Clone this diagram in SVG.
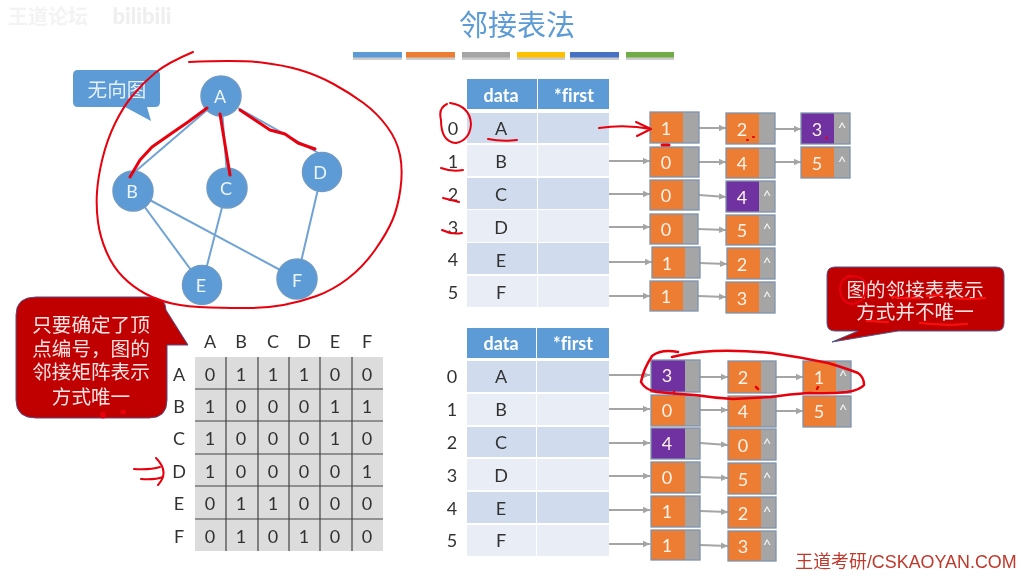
<svg xmlns="http://www.w3.org/2000/svg" width="1021" height="577" viewBox="0 0 1021 577">
<defs>
<marker id="ah" markerUnits="userSpaceOnUse" markerWidth="8" markerHeight="8" refX="7" refY="4" orient="auto"><path d="M0 0.8L7 4L0 7.2Z" fill="#a5a5a5"/></marker>
<filter id="soft" x="0" y="0" width="100%" height="100%"><feGaussianBlur stdDeviation="0.45"/></filter>
</defs>
<style>
text{font-family:"Lato","Noto Sans CJK SC",sans-serif;text-anchor:middle;dominant-baseline:central;font-variant-ligatures:none}
.cjk{font-family:"Noto Sans CJK SC",sans-serif}
.gn{fill:#5b9bd5;stroke:#6d9ac6;stroke-width:1.5}
.gt{fill:#eef4fb;font-size:18px}
.edge{stroke:#6fa3d4;stroke-width:2;fill:none}
.hd{fill:#5b9bd5}.odd{fill:#d0dcee}.even{fill:#e9edf6}
.ht{fill:#fff;font-size:18px;font-weight:bold}
.tt{fill:#333;font-size:18px}
.o{fill:#ed7d31}.p{fill:#7030a0}.g{fill:#a5a5a5}
.box{fill:none;stroke:#7f93ad;stroke-width:1.3}
.nt{fill:#fdf3ea;font-size:18px}
.ct{fill:#f4f4f4;font-size:15px}
.arr{stroke:#a5a5a5;stroke-width:2;fill:none;marker-end:url(#ah)}
.mx{fill:#333;font-size:18px}
.ln{stroke:#444;stroke-width:1.2}
.red{stroke:#e8000f;fill:none;stroke-linecap:round;stroke-linejoin:round;stroke-width:2}
.bt{fill:#fbe4e4;font-size:19.6px}
</style>
<rect width="1021" height="577" fill="#fff"/>
<g filter="url(#soft)">
<g id="watermarks">
<text x="48" y="15" class="cjk" font-size="20" font-weight="bold" fill="#f3f3f3">王道论坛</text>
<text x="142" y="15" font-size="22" font-weight="900" fill="#efefef">bilibili</text>
<text x="906" y="562" font-size="17.900" fill="#c0392b" style="font-family:'Liberation Sans','Noto Sans CJK SC',sans-serif">王道考研/CSKAOYAN.COM</text>
</g>
<g id="title">
<text x="517" y="23" class="cjk" font-size="29" fill="#5b9bd5">邻接表法</text>
<g id="bars">
<rect x="353" y="54" width="49" height="6" fill="#999" opacity=".5"/><rect x="353" y="52" width="49" height="5.500" fill="#5b9bd5"/>
<rect x="406" y="54" width="49" height="6" fill="#999" opacity=".5"/><rect x="406" y="52" width="49" height="5.500" fill="#ed7d31"/>
<rect x="462" y="54" width="48" height="6" fill="#999" opacity=".5"/><rect x="462" y="52" width="48" height="5.500" fill="#a5a5a5"/>
<rect x="517" y="54" width="48" height="6" fill="#999" opacity=".5"/><rect x="517" y="52" width="48" height="5.500" fill="#ffc000"/>
<rect x="570" y="54" width="49" height="6" fill="#999" opacity=".5"/><rect x="570" y="52" width="49" height="5.500" fill="#4472c4"/>
<rect x="626" y="54" width="48" height="6" fill="#999" opacity=".5"/><rect x="626" y="52" width="48" height="5.500" fill="#70ad47"/>
</g>
</g>
<g id="callout-undirected">
<path d="M78 70H155Q160 70 160 75V102Q160 107 155 107H147L151 121L125 107H78Q73 107 73 102V75Q73 70 78 70Z" fill="#5b9bd5"/>
<text x="117" y="88" class="cjk" font-size="19.600" fill="#e6f0fa">无向图</text>
</g>
<g id="connectors">
<g id="graph-edges">
<path class="edge" d="M207 110L130 176M221 96L228 188M238 108L322 155M133 191L202 285M133 191L297 279M227 188L202 285M322 172L297 279"/>
</g>
<g id="list-arrows-1">
<path class="arr" d="M599 161H650"/><path class="arr" d="M603 194H650"/><path class="arr" d="M602 227H650"/><path class="arr" d="M603 262H652"/><path class="arr" d="M602 296H650"/>
<path class="arr" d="M699 128H726"/><path class="arr" d="M775 129H801"/><path class="arr" d="M699 162H726"/><path class="arr" d="M775 162H801"/>
<path class="arr" d="M699 195L726 197"/><path class="arr" d="M698 229L726 230"/><path class="arr" d="M699 263L727 264"/><path class="arr" d="M698 296L726 297"/>
</g>
<g id="list-arrows-2">
<path class="arr" d="M600 375H650"/><path class="arr" d="M600 409H650"/><path class="arr" d="M603 443H650"/><path class="arr" d="M603 476H650"/><path class="arr" d="M603 510H650"/><path class="arr" d="M603 544H650"/>
<path class="arr" d="M700 377H728"/><path class="arr" d="M776 377H803"/><path class="arr" d="M700 410H728"/><path class="arr" d="M776 411H803"/>
<path class="arr" d="M700 443L728 445"/><path class="arr" d="M700 477L728 478"/><path class="arr" d="M700 511L728 512"/><path class="arr" d="M700 545L728 546"/>
</g>
</g>
<g id="node-A"><circle class="gn" cx="221" cy="96" r="20"/><text class="gt" x="220" y="96">A</text></g>
<g id="node-B"><circle class="gn" cx="133" cy="191" r="20"/><text class="gt" x="132" y="191">B</text></g>
<g id="node-C"><circle class="gn" cx="227" cy="188" r="20"/><text class="gt" x="226" y="188">C</text></g>
<g id="node-D"><circle class="gn" cx="322" cy="172" r="19.500"/><text class="gt" x="320" y="172">D</text></g>
<g id="node-E"><circle class="gn" cx="202" cy="285" r="19.500"/><text class="gt" x="201" y="285">E</text></g>
<g id="node-F"><circle class="gn" cx="297" cy="279" r="20"/><text class="gt" x="297" y="280">F</text></g>
<g id="callout-left">
<path d="M36 297H148Q166 297 166 310L188 345L167 345V400Q167 418 149 418H36Q16 418 16 400V315Q16 297 36 297Z" fill="#c00000" stroke="#5a4a80" stroke-width="1"/>
<text class="cjk bt" x="91" y="323">只要确定了顶</text>
<text class="cjk bt" x="91" y="347">点编号，图的</text>
<text class="cjk bt" x="91" y="370">邻接矩阵表示</text>
<text class="cjk bt" x="91" y="395">方式唯一</text>
</g>
<g id="matrix">
<rect x="195" y="357" width="188" height="194" fill="#dcdcdc"/>
<path class="ln" d="M226 357V551M258 357V551M289 357V551M320 357V551M352 357V551M195 389H383M195 421H383M195 454H383M195 486H383M195 519H383"/>
<g class="mxh">
<text class="mx" x="210" y="341">A</text><text class="mx" x="241" y="341">B</text><text class="mx" x="273" y="341">C</text><text class="mx" x="304" y="341">D</text><text class="mx" x="335" y="341">E</text><text class="mx" x="367" y="341">F</text>
<text class="mx" x="179" y="374">A</text><text class="mx" x="179" y="406">B</text><text class="mx" x="179" y="438">C</text><text class="mx" x="179" y="471">D</text><text class="mx" x="179" y="503">E</text><text class="mx" x="179" y="536">F</text>
</g>
<g id="matrix-values">
<text class="mx" x="210" y="374">0</text><text class="mx" x="241" y="374">1</text><text class="mx" x="273" y="374">1</text><text class="mx" x="304" y="374">1</text><text class="mx" x="335" y="374">0</text><text class="mx" x="367" y="374">0</text>
<text class="mx" x="210" y="406">1</text><text class="mx" x="241" y="406">0</text><text class="mx" x="273" y="406">0</text><text class="mx" x="304" y="406">0</text><text class="mx" x="335" y="406">1</text><text class="mx" x="367" y="406">1</text>
<text class="mx" x="210" y="438">1</text><text class="mx" x="241" y="438">0</text><text class="mx" x="273" y="438">0</text><text class="mx" x="304" y="438">0</text><text class="mx" x="335" y="438">1</text><text class="mx" x="367" y="438">0</text>
<text class="mx" x="210" y="471">1</text><text class="mx" x="241" y="471">0</text><text class="mx" x="273" y="471">0</text><text class="mx" x="304" y="471">0</text><text class="mx" x="335" y="471">0</text><text class="mx" x="367" y="471">1</text>
<text class="mx" x="210" y="503">0</text><text class="mx" x="241" y="503">1</text><text class="mx" x="273" y="503">1</text><text class="mx" x="304" y="503">0</text><text class="mx" x="335" y="503">0</text><text class="mx" x="367" y="503">0</text>
<text class="mx" x="210" y="536">0</text><text class="mx" x="241" y="536">1</text><text class="mx" x="273" y="536">0</text><text class="mx" x="304" y="536">1</text><text class="mx" x="335" y="536">0</text><text class="mx" x="367" y="536">0</text>
</g>
</g>
<g id="table-1">
<rect class="hd" x="467" y="79" width="70" height="30"/><rect class="hd" x="538" y="79" width="71" height="30"/>
<text class="ht" x="501" y="95">data</text><text class="ht" x="574" y="95">*first</text>
<rect class="odd" x="467" y="113" width="70" height="30"/><rect class="odd" x="538" y="113" width="71" height="30"/>
<rect class="even" x="467" y="145" width="70" height="31"/><rect class="even" x="538" y="145" width="71" height="31"/>
<rect class="odd" x="467" y="178" width="70" height="31"/><rect class="odd" x="538" y="178" width="71" height="31"/>
<rect class="even" x="467" y="210" width="70" height="32"/><rect class="even" x="538" y="210" width="71" height="32"/>
<rect class="odd" x="467" y="243" width="70" height="31"/><rect class="odd" x="538" y="243" width="71" height="31"/>
<rect class="even" x="467" y="276" width="70" height="31"/><rect class="even" x="538" y="276" width="71" height="31"/>
<text class="tt" x="501" y="128">A</text><text class="tt" x="501" y="161">B</text><text class="tt" x="501" y="194">C</text><text class="tt" x="501" y="227">D</text><text class="tt" x="501" y="260">E</text><text class="tt" x="501" y="292">F</text>
<text class="tt" x="453" y="128">0</text><text class="tt" x="453" y="161">1</text><text class="tt" x="453" y="194">2</text><text class="tt" x="453" y="227">3</text><text class="tt" x="453" y="259">4</text><text class="tt" x="453" y="292">5</text>
</g>
<g id="list-1">
<g><rect class="o" x="650" y="112" width="33" height="31"/><rect class="g" x="683" y="112" width="16" height="31"/><rect class="box" x="650" y="112" width="49" height="31"/><text class="nt" x="666" y="128">1</text></g>
<g><rect class="o" x="726" y="113" width="33" height="31"/><rect class="g" x="759" y="113" width="16" height="31"/><rect class="box" x="726" y="113" width="49" height="31"/><text class="nt" x="742" y="129">2</text></g>
<g><rect class="p" x="801" y="113" width="33" height="31"/><rect class="g" x="834" y="113" width="16" height="31"/><rect class="box" x="801" y="113" width="49" height="31"/><text class="nt" x="817" y="129">3</text><text class="ct" x="842" y="127">^</text></g>
<g><rect class="o" x="650" y="147" width="33" height="30"/><rect class="g" x="683" y="147" width="16" height="30"/><rect class="box" x="650" y="147" width="49" height="30"/><text class="nt" x="666" y="162">0</text></g>
<g><rect class="o" x="726" y="148" width="33" height="30"/><rect class="g" x="759" y="148" width="16" height="30"/><rect class="box" x="726" y="148" width="49" height="30"/><text class="nt" x="742" y="163">4</text></g>
<g><rect class="o" x="801" y="147" width="33" height="31"/><rect class="g" x="834" y="147" width="16" height="31"/><rect class="box" x="801" y="147" width="49" height="31"/><text class="nt" x="817" y="163">5</text><text class="ct" x="842" y="161">^</text></g>
<g><rect class="o" x="650" y="180" width="33" height="30"/><rect class="g" x="683" y="180" width="16" height="30"/><rect class="box" x="650" y="180" width="49" height="30"/><text class="nt" x="666" y="195">0</text></g>
<g><rect class="p" x="726" y="181" width="33" height="31"/><rect class="g" x="759" y="181" width="16" height="31"/><rect class="box" x="726" y="181" width="49" height="31"/><text class="nt" x="742" y="197">4</text><text class="ct" x="767" y="195">^</text></g>
<g><rect class="o" x="650" y="214" width="33" height="30"/><rect class="g" x="683" y="214" width="15" height="30"/><rect class="box" x="650" y="214" width="48" height="30"/><text class="nt" x="666" y="229">0</text></g>
<g><rect class="o" x="726" y="215" width="33" height="30"/><rect class="g" x="759" y="215" width="16" height="30"/><rect class="box" x="726" y="215" width="49" height="30"/><text class="nt" x="742" y="230">5</text><text class="ct" x="767" y="228">^</text></g>
<g><rect class="o" x="652" y="247" width="33" height="31"/><rect class="g" x="685" y="247" width="15" height="31"/><rect class="box" x="652" y="247" width="48" height="31"/><text class="nt" x="667" y="263">1</text></g>
<g><rect class="o" x="727" y="248" width="33" height="31"/><rect class="g" x="760" y="248" width="15" height="31"/><rect class="box" x="727" y="248" width="48" height="31"/><text class="nt" x="742" y="264">2</text><text class="ct" x="767" y="262">^</text></g>
<g><rect class="o" x="650" y="281" width="33" height="30"/><rect class="g" x="683" y="281" width="15" height="30"/><rect class="box" x="650" y="281" width="48" height="30"/><text class="nt" x="666" y="296">1</text></g>
<g><rect class="o" x="726" y="282" width="33" height="31"/><rect class="g" x="759" y="282" width="16" height="31"/><rect class="box" x="726" y="282" width="49" height="31"/><text class="nt" x="742" y="298">3</text><text class="ct" x="767" y="296">^</text></g>
</g>
<g id="table-2">
<rect class="hd" x="467" y="328" width="69" height="30"/><rect class="hd" x="537" y="328" width="72" height="30"/>
<text class="ht" x="501" y="343">data</text><text class="ht" x="573" y="343">*first</text>
<rect class="odd" x="467" y="361" width="69" height="31"/><rect class="odd" x="537" y="361" width="72" height="31"/>
<rect class="even" x="467" y="394" width="69" height="31"/><rect class="even" x="537" y="394" width="72" height="31"/>
<rect class="odd" x="467" y="427" width="69" height="30"/><rect class="odd" x="537" y="427" width="72" height="30"/>
<rect class="even" x="467" y="459" width="69" height="31"/><rect class="even" x="537" y="459" width="72" height="31"/>
<rect class="odd" x="467" y="492" width="69" height="31"/><rect class="odd" x="537" y="492" width="72" height="31"/>
<rect class="even" x="467" y="525" width="69" height="31"/><rect class="even" x="537" y="525" width="72" height="31"/>
<text class="tt" x="501" y="376">A</text><text class="tt" x="501" y="409">B</text><text class="tt" x="501" y="442">C</text><text class="tt" x="501" y="475">D</text><text class="tt" x="501" y="508">E</text><text class="tt" x="501" y="540">F</text>
<text class="tt" x="452" y="376">0</text><text class="tt" x="452" y="409">1</text><text class="tt" x="452" y="442">2</text><text class="tt" x="452" y="475">3</text><text class="tt" x="452" y="508">4</text><text class="tt" x="452" y="540">5</text>
</g>
<g id="list-2">
<g><rect class="p" x="651" y="360" width="34" height="32"/><rect class="g" x="685" y="360" width="15" height="32"/><rect class="box" x="651" y="360" width="49" height="32"/><text class="nt" x="667" y="375">3</text></g>
<g><rect class="o" x="728" y="361" width="33" height="32"/><rect class="g" x="761" y="361" width="15" height="32"/><rect class="box" x="728" y="361" width="48" height="32"/><text class="nt" x="743" y="377">2</text></g>
<g><rect class="o" x="803" y="361" width="33" height="32"/><rect class="g" x="836" y="361" width="15" height="32"/><rect class="box" x="803" y="361" width="48" height="32"/><text class="nt" x="819" y="377">1</text><text class="ct" x="843" y="375">^</text></g>
<g><rect class="o" x="651" y="395" width="34" height="31"/><rect class="g" x="685" y="395" width="15" height="31"/><rect class="box" x="651" y="395" width="49" height="31"/><text class="nt" x="667" y="410">0</text></g>
<g><rect class="o" x="728" y="396" width="33" height="31"/><rect class="g" x="761" y="396" width="15" height="31"/><rect class="box" x="728" y="396" width="48" height="31"/><text class="nt" x="743" y="411">4</text></g>
<g><rect class="o" x="803" y="396" width="33" height="31"/><rect class="g" x="836" y="396" width="15" height="31"/><rect class="box" x="803" y="396" width="48" height="31"/><text class="nt" x="819" y="411">5</text><text class="ct" x="843" y="409">^</text></g>
<g><rect class="p" x="651" y="428" width="34" height="31"/><rect class="g" x="685" y="428" width="15" height="31"/><rect class="box" x="651" y="428" width="49" height="31"/><text class="nt" x="667" y="443">4</text></g>
<g><rect class="o" x="728" y="429" width="33" height="31"/><rect class="g" x="761" y="429" width="15" height="31"/><rect class="box" x="728" y="429" width="48" height="31"/><text class="nt" x="743" y="445">0</text><text class="ct" x="767" y="443">^</text></g>
<g><rect class="o" x="651" y="462" width="34" height="31"/><rect class="g" x="685" y="462" width="15" height="31"/><rect class="box" x="651" y="462" width="49" height="31"/><text class="nt" x="667" y="477">0</text></g>
<g><rect class="o" x="728" y="463" width="33" height="31"/><rect class="g" x="761" y="463" width="15" height="31"/><rect class="box" x="728" y="463" width="48" height="31"/><text class="nt" x="743" y="479">5</text><text class="ct" x="767" y="477">^</text></g>
<g><rect class="o" x="651" y="496" width="34" height="31"/><rect class="g" x="685" y="496" width="15" height="31"/><rect class="box" x="651" y="496" width="49" height="31"/><text class="nt" x="667" y="511">1</text></g>
<g><rect class="o" x="728" y="497" width="33" height="31"/><rect class="g" x="761" y="497" width="15" height="31"/><rect class="box" x="728" y="497" width="48" height="31"/><text class="nt" x="743" y="513">2</text><text class="ct" x="767" y="511">^</text></g>
<g><rect class="o" x="651" y="530" width="34" height="30"/><rect class="g" x="685" y="530" width="15" height="30"/><rect class="box" x="651" y="530" width="49" height="30"/><text class="nt" x="667" y="545">1</text></g>
<g><rect class="o" x="728" y="531" width="33" height="30"/><rect class="g" x="761" y="531" width="15" height="30"/><rect class="box" x="728" y="531" width="48" height="30"/><text class="nt" x="743" y="546">3</text><text class="ct" x="767" y="544">^</text></g>
</g>
<g id="callout-right">
<path d="M835 267H996Q1004 267 1004 275V323Q1004 331 996 331H898L832 342L858 331H835Q827 331 827 323V275Q827 267 835 267Z" fill="#c00000" stroke="#4a5a90" stroke-width="1"/>
<text class="cjk bt" x="915" y="288">图的邻接表表示</text>
<text class="cjk bt" x="915" y="310">方式并不唯一</text>
</g>
<g id="annotations">
<path class="red" d="M193 52Q167 63 155 73Q143 83 133 95Q123 107 115 123.500Q107 140 102.500 158.500Q98 177 97 192Q96 207 98 222Q100 237 106.500 252Q113 267 123 277Q133 287 145 293.500Q157 300 172 303.500Q187 307 210 307.500Q233 308 250 308Q267 308 283.500 305Q300 302 316.500 296Q333 290 348 278.500Q363 267 375 250Q387 233 392.500 220Q398 207 400.500 188.500Q403 170 400 155Q397 140 387 126.500Q377 113 363.500 103Q350 93 333.500 84Q317 75 300 70Q283 65 261.500 62.500Q240 60 189 62"/>
<path class="red" style="stroke-width:3" d="M207 108L188 122L172 133L152 147L140 160L130 177M220 114L230 175M240 110L255 120L270 130L285 134L298 143L315 149"/>
<path class="red" d="M447 104Q438 108 441 120Q441 142 456 143Q470 140 471 124Q470 106 450 103M488 139Q502 142 517 140M441 168Q452 172 463 170M443 198L459 202M442 230Q452 235 462 233M599 128Q625 124 651 129M636 122L651 129L637 136"/>
<path class="red" style="stroke-width:3" d="M662 145H669"/>
<path class="red" d="M747 140h1M753 137h1M826 138h1M156 458Q170 472 158 485M134 469Q150 470 160 467M141 479Q155 480 163 477"/>
<path class="red" style="stroke-width:5" d="M103 414v2M123 412h.5"/>
<path class="red" style="stroke-width:2.500" d="M678 352Q661 349 652 356Q643 370 641 382Q645 390 657 392Q676 394 695 395Q715 398 733 399Q752 398 771 397Q790 394 809 393Q830 394 847 392Q860 390 864 385Q864 377 858 373Q845 368 828 363Q800 357 771 353Q740 350 714 351Q692 352 672 357M756 387l2 2M818 387l-1 2M674 392v2"/>
<path class="red" d="M853 276Q840 277 840 290Q842 304 853 304Q865 302 866 288Q866 275 848 276"/>
<path class="red" style="stroke:#ff1010" d="M892 297Q905 299 920 298M927 296L942 295M953 298Q970 300 985 298M867 321L888 322M920 323Q945 326 967 324"/>
</g>
</g>
</svg>
